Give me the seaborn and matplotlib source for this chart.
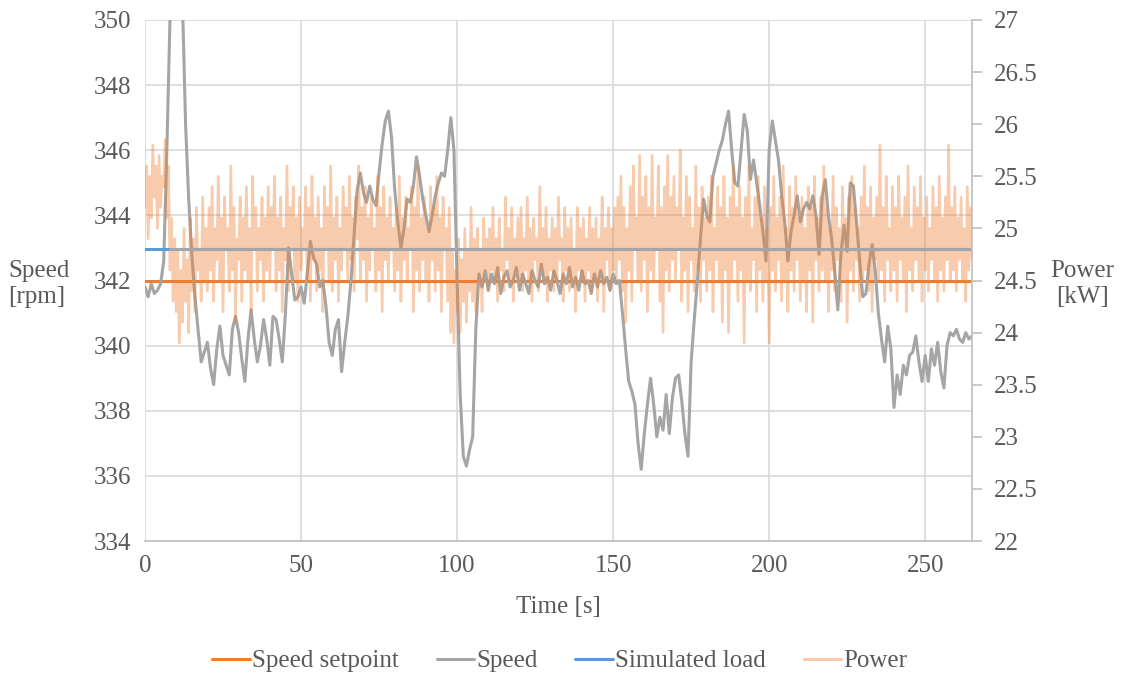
import numpy as np
import matplotlib
matplotlib.use("Agg")
import matplotlib.pyplot as plt
import seaborn as sns
from matplotlib.lines import Line2D

# ---- data ----
# speed [rpm], one sample per second, t = 0..265 s
speed_rpm = [
    341.8, 341.5, 341.9, 341.6, 341.7, 341.9, 342.6, 346.0, 350.0, 352.0,
    353.0, 352.5, 350.6, 346.8, 344.5, 342.8, 341.5, 340.5, 339.5, 339.8,
    340.1, 339.3, 338.8, 339.9, 340.6, 339.7, 339.4, 339.1, 340.5, 340.9,
    340.4, 339.6, 338.9, 340.2, 341.1, 340.2, 339.5, 340.0, 340.8, 340.2,
    339.4, 340.9, 340.8, 340.2, 339.5, 341.0, 343.0, 342.2, 341.4, 341.5,
    341.8, 341.3, 342.2, 343.2, 342.7, 342.5, 341.8, 342.0, 341.2, 340.1,
    339.7, 340.5, 340.8, 339.2, 340.1, 340.9, 342.0, 343.4, 344.8, 345.3,
    344.7, 344.4, 344.9, 344.5, 344.3, 345.3, 346.2, 346.9, 347.2, 346.4,
    344.8, 343.8, 343.0, 343.6, 344.5, 344.4, 344.9, 345.8, 345.2, 344.5,
    344.0, 343.5, 344.0, 344.6, 345.0, 345.3, 345.2, 346.0, 347.0, 346.0,
    342.0, 338.5, 336.6, 336.3, 336.8, 337.2, 340.5, 342.2, 341.8, 342.3,
    341.7, 342.2, 341.9, 342.4, 341.6, 342.1, 342.3, 341.8, 342.0, 342.4,
    341.7, 342.2, 341.9, 341.6, 342.3, 342.0, 341.8, 342.5, 341.9, 342.1,
    341.7, 342.3, 342.0, 341.6, 342.2, 341.9, 342.4, 341.8, 342.1, 341.7,
    342.3, 341.9, 342.0, 341.6, 342.2, 341.8, 342.3, 341.9, 342.1, 341.7,
    342.2, 341.9, 342.0, 341.0, 339.9, 338.9, 338.6, 338.2, 337.0, 336.2,
    337.3, 338.2, 339.0, 338.2, 337.2, 337.8, 337.4, 338.5, 337.3, 338.4,
    339.0, 339.1, 338.3, 337.3, 336.6, 339.5, 340.8, 342.0, 343.3, 344.5,
    344.0, 343.8, 345.2, 345.6, 346.0, 346.3, 346.8, 347.2, 346.0, 345.0,
    344.9, 346.0, 347.1, 346.6, 345.1, 345.7, 345.0, 344.3, 343.5, 342.6,
    346.0, 346.9, 346.3, 345.7, 344.6, 343.8, 342.6, 343.5, 344.0, 344.6,
    343.8, 344.2, 344.4, 344.2, 344.6, 344.0, 342.8, 344.6, 345.1, 344.0,
    343.3, 342.3, 341.1, 342.8, 343.7, 342.9, 345.0, 344.9, 343.8, 342.6,
    341.5, 341.6, 342.5, 343.1, 342.3, 341.0, 340.2, 339.5, 340.6, 339.9,
    338.1, 339.1, 338.5, 339.4, 339.1, 339.7, 339.8, 340.3, 339.5, 338.9,
    339.7, 338.9, 339.9, 339.4, 340.1, 339.2, 338.7, 340.0, 340.4, 340.3,
    340.5, 340.2, 340.1, 340.4, 340.2, 340.3,
]
speed_t = np.arange(len(speed_rpm))

# power [kW], one sample every 0.5 s
power_kw = [
    25.2, 25.6, 24.9, 25.5, 25.1, 25.8, 25.3, 25.6, 25.0, 25.7, 25.2, 25.5, 25.4, 25.85, 25.1, 25.6, 24.6, 25.1, 24.3, 24.9,
    24.2, 24.8, 23.9, 24.6, 24.1, 25.0, 24.3, 24.7, 24.0, 25.1, 24.4, 24.9, 24.2, 25.2, 24.6, 24.8, 24.3, 25.3, 24.5, 25.0,
    24.4, 25.2, 24.6, 25.4, 24.3, 25.0, 24.7, 25.5, 24.5, 25.1, 24.2, 25.3, 24.8, 25.0, 24.4, 25.6, 24.6, 25.2, 24.1, 24.9,
    24.7, 25.3, 24.3, 25.1, 24.6, 25.4, 24.5, 25.0, 24.2, 25.5, 24.8, 25.2, 24.4, 25.0, 24.7, 25.3, 24.3, 25.1, 24.6, 25.4,
    24.5, 25.2, 24.8, 25.5, 24.4, 25.1, 24.6, 25.3, 24.2, 25.0, 24.7, 25.6, 24.4, 25.2, 24.8, 25.4, 24.5, 25.1, 24.3, 25.3,
    24.6, 25.0, 24.8, 25.4, 24.5, 25.2, 24.3, 25.5, 24.7, 25.1, 24.4, 25.3, 24.6, 25.0, 24.2, 25.4, 24.8, 25.2, 24.5, 25.6,
    24.4, 25.1, 24.7, 25.3, 24.3, 25.0, 24.6, 25.4, 24.8, 25.2, 24.5, 25.5, 24.7, 25.1, 24.4, 25.3, 24.9, 25.6, 24.5, 25.2,
    24.7, 25.4, 24.3, 25.1, 24.6, 25.3, 24.8, 25.0, 24.4, 25.5, 24.6, 25.2, 24.2, 25.4, 24.7, 25.1, 24.5, 25.3, 24.8, 25.0,
    24.4, 25.2, 24.6, 25.5, 24.3, 25.1, 24.7, 25.3, 24.5, 25.0, 24.8, 25.4, 24.2, 25.2, 24.6, 25.6, 24.4, 25.1, 24.7, 25.3,
    24.5, 25.0, 24.3, 25.4, 24.7, 25.2, 24.4, 25.5, 24.6, 25.1, 24.2, 25.3, 24.8, 25.0, 24.3, 25.2, 24.0, 24.8, 23.9, 24.6,
    24.2, 24.9, 24.0, 24.7, 24.3, 25.0, 24.1, 24.8, 24.4, 25.2, 24.3, 24.9, 24.2, 25.0, 24.5, 24.8, 24.2, 25.1, 24.6, 24.9,
    24.4, 25.0, 24.6, 25.2, 24.5, 24.9, 24.3, 25.1, 24.6, 24.8, 24.4, 25.3, 24.7, 25.0, 24.5, 25.2, 24.3, 24.9, 24.6, 25.1,
    24.5, 25.2, 24.4, 24.9, 24.6, 25.3, 24.5, 25.0, 24.3, 25.1, 24.7, 24.9, 24.4, 25.4, 24.6, 25.0, 24.5, 25.2, 24.3, 24.9,
    24.6, 25.1, 24.4, 25.0, 24.5, 25.3, 24.7, 24.9, 24.3, 25.2, 24.6, 25.0, 24.4, 25.1, 24.5, 24.8, 24.2, 25.2, 24.6, 25.0,
    24.5, 25.1, 24.3, 24.9, 24.6, 25.2, 24.4, 25.0, 24.5, 25.1, 24.3, 24.9, 24.6, 25.3, 24.2, 25.0, 24.7, 25.2, 24.4, 25.0,
    24.6, 25.2, 24.5, 25.3, 24.7, 25.5, 24.4, 25.2, 24.1, 25.0, 24.6, 25.4, 24.3, 25.6, 24.8, 25.1, 24.5, 25.7, 24.4, 25.3,
    24.7, 25.5, 24.2, 25.2, 24.6, 25.7, 24.5, 25.1, 24.8, 25.6, 24.3, 25.2, 24.0, 25.4, 24.6, 25.7, 24.4, 25.3, 24.7, 25.5,
    24.5, 25.2, 24.8, 25.75, 24.3, 25.1, 24.6, 25.5, 24.2, 25.3, 24.7, 25.0, 24.4, 25.6, 24.6, 25.2, 24.3, 25.4, 24.7, 25.1,
    24.4, 25.3, 24.6, 25.5, 24.2, 25.0, 24.7, 25.4, 24.5, 25.2, 24.1, 25.5, 24.6, 25.1, 24.0, 25.3, 24.5, 25.6, 24.7, 25.2,
    24.3, 25.4, 24.6, 25.1, 23.9, 25.3, 24.5, 25.6, 24.4, 25.0, 24.7, 25.3, 24.2, 25.5, 24.6, 25.1, 24.3, 25.4, 24.5, 25.0,
    23.9, 25.2, 24.6, 25.5, 24.4, 25.1, 24.7, 25.3, 24.3, 25.6, 24.5, 25.0, 24.2, 25.4, 24.6, 25.2, 24.4, 25.5, 24.7, 25.1,
    24.3, 25.3, 24.5, 25.0, 24.2, 25.4, 24.6, 25.2, 24.1, 25.5, 24.7, 25.1, 24.4, 25.3, 24.6, 25.6, 24.5, 25.2, 24.2, 25.0,
    24.6, 25.5, 24.4, 25.2, 24.7, 25.0, 24.3, 25.4, 24.5, 25.1, 24.1, 25.3, 24.6, 25.5, 24.4, 25.2, 24.7, 25.0, 24.3, 25.3,
    24.5, 25.6, 24.6, 25.2, 24.4, 25.4, 24.2, 25.1, 24.7, 25.3, 24.5, 25.8, 24.6, 25.2, 24.3, 25.5, 24.7, 25.0, 24.4, 25.4,
    24.6, 25.2, 24.3, 25.5, 24.7, 25.1, 24.5, 25.3, 24.2, 25.6, 24.6, 25.0, 24.4, 25.4, 24.7, 25.2, 24.5, 25.5, 24.3, 25.1,
    24.6, 25.3, 24.4, 25.0, 24.7, 25.4, 24.5, 25.2, 24.3, 25.5, 24.6, 25.1, 24.4, 25.3, 24.7, 25.8, 24.5, 25.2, 24.6, 25.4,
    24.4, 25.1, 24.7, 25.3, 24.5, 25.0, 24.3, 25.4, 24.6, 25.2, 24.7,
]
power_t = np.arange(len(power_kw)) * 0.5

setpoint_t = [0, 265]
setpoint_rpm = [342, 342]
load_t = [0, 265]
load_kw = [24.8, 24.8]
load_overlay_t = [8, 265]   # part of the 24.8 kW line that shows grey in the original

x_ticks = [0, 50, 100, 150, 200, 250]
left_ticks = [334, 336, 338, 340, 342, 344, 346, 348, 350]
right_ticks = [22, 22.5, 23, 23.5, 24, 24.5, 25, 25.5, 26, 26.5, 27]

# colours
ORANGE = "#ED7D31"
GREY = "#A5A5A5"
BLUE = "#5B9BD5"
TEXT = "#595959"
GRID = "#D9D9D9"
FS = 18

sns.set_theme(style="whitegrid")
plt.rcParams['font.family'] = ['Liberation Serif', 'DejaVu Serif']

fig = plt.figure(figsize=(11.21, 6.77), dpi=100)
ax1 = fig.add_axes([145 / 1121, 1 - 541 / 677, (972 - 145) / 1121, (541 - 20) / 677])
ax2 = ax1.twinx()

sns.lineplot(x=setpoint_t, y=setpoint_rpm, color=ORANGE, lw=2.2, ax=ax1)
sns.lineplot(x=speed_t, y=speed_rpm, color=GREY, lw=2.2, ax=ax1)

sns.lineplot(x=power_t, y=power_kw, color=ORANGE, alpha=0.4, lw=1.9, ax=ax2)
sns.lineplot(x=load_t, y=load_kw, color=BLUE, lw=2.2, ax=ax2)
sns.lineplot(x=load_overlay_t, y=load_kw, color="#A2A6AC", lw=2.2, ax=ax2)

# axes
ax1.set_xlim(0, 265)
ax1.set_ylim(334, 350)
ax2.set_ylim(22, 27)
ax1.set_xticks(x_ticks)
ax1.set_yticks(left_ticks)
ax2.set_yticks(right_ticks)
ax2.set_yticklabels([f"{v:g}" for v in right_ticks])
ax1.set_xlabel("")
ax1.set_ylabel("")
ax2.set_ylabel("")

ax1.grid(True, color=GRID, lw=1.2)
ax2.grid(False)
ax1.set_facecolor("white")

for ax in (ax1, ax2):
    for side in ("top", "left", "right", "bottom"):
        ax.spines[side].set_visible(False)
ax1.spines["bottom"].set_visible(True)
ax1.spines["bottom"].set_color("#BFBFBF")
ax1.spines["bottom"].set_linewidth(1.2)
ax2.spines["right"].set_visible(True)
ax2.spines["right"].set_color("#BFBFBF")
ax2.spines["right"].set_linewidth(1.2)

ax1.tick_params(axis="both", labelsize=FS, colors=TEXT, length=0, pad=10)
ax2.tick_params(axis="y", labelsize=FS, colors=TEXT, length=7, width=1.2,
                color="#BFBFBF", direction="out", pad=9)

# axis titles
fig.text(8 / 1121, 1 - 284 / 677, "Speed\n[rpm]", fontsize=FS, color=TEXT,
         ha="left", va="center", linespacing=1.25)
fig.text(1082 / 1121, 1 - 284 / 677, "Power\n[kW]", fontsize=FS, color=TEXT,
         ha="center", va="center", multialignment="center", linespacing=1.25)
fig.text(558 / 1121, 1 - 607 / 677, "Time [s]", fontsize=FS, color=TEXT,
         ha="center", va="center")

handles = [
    Line2D([], [], color=ORANGE, lw=2.2),
    Line2D([], [], color=GREY, lw=2.2),
    Line2D([], [], color=BLUE, lw=2.2),
    Line2D([], [], color=ORANGE, alpha=0.4, lw=2.2),
]
labels = ["Speed setpoint", "Speed", "Simulated load", "Power"]
fig.legend(handles, labels, loc="center", bbox_to_anchor=(560 / 1121, 1 - 661 / 677),
           ncol=4, frameon=False, fontsize=FS, labelcolor=TEXT,
           handlelength=1.5, handletextpad=0.1, columnspacing=1.5)

fig.savefig("out.png", dpi=100)
